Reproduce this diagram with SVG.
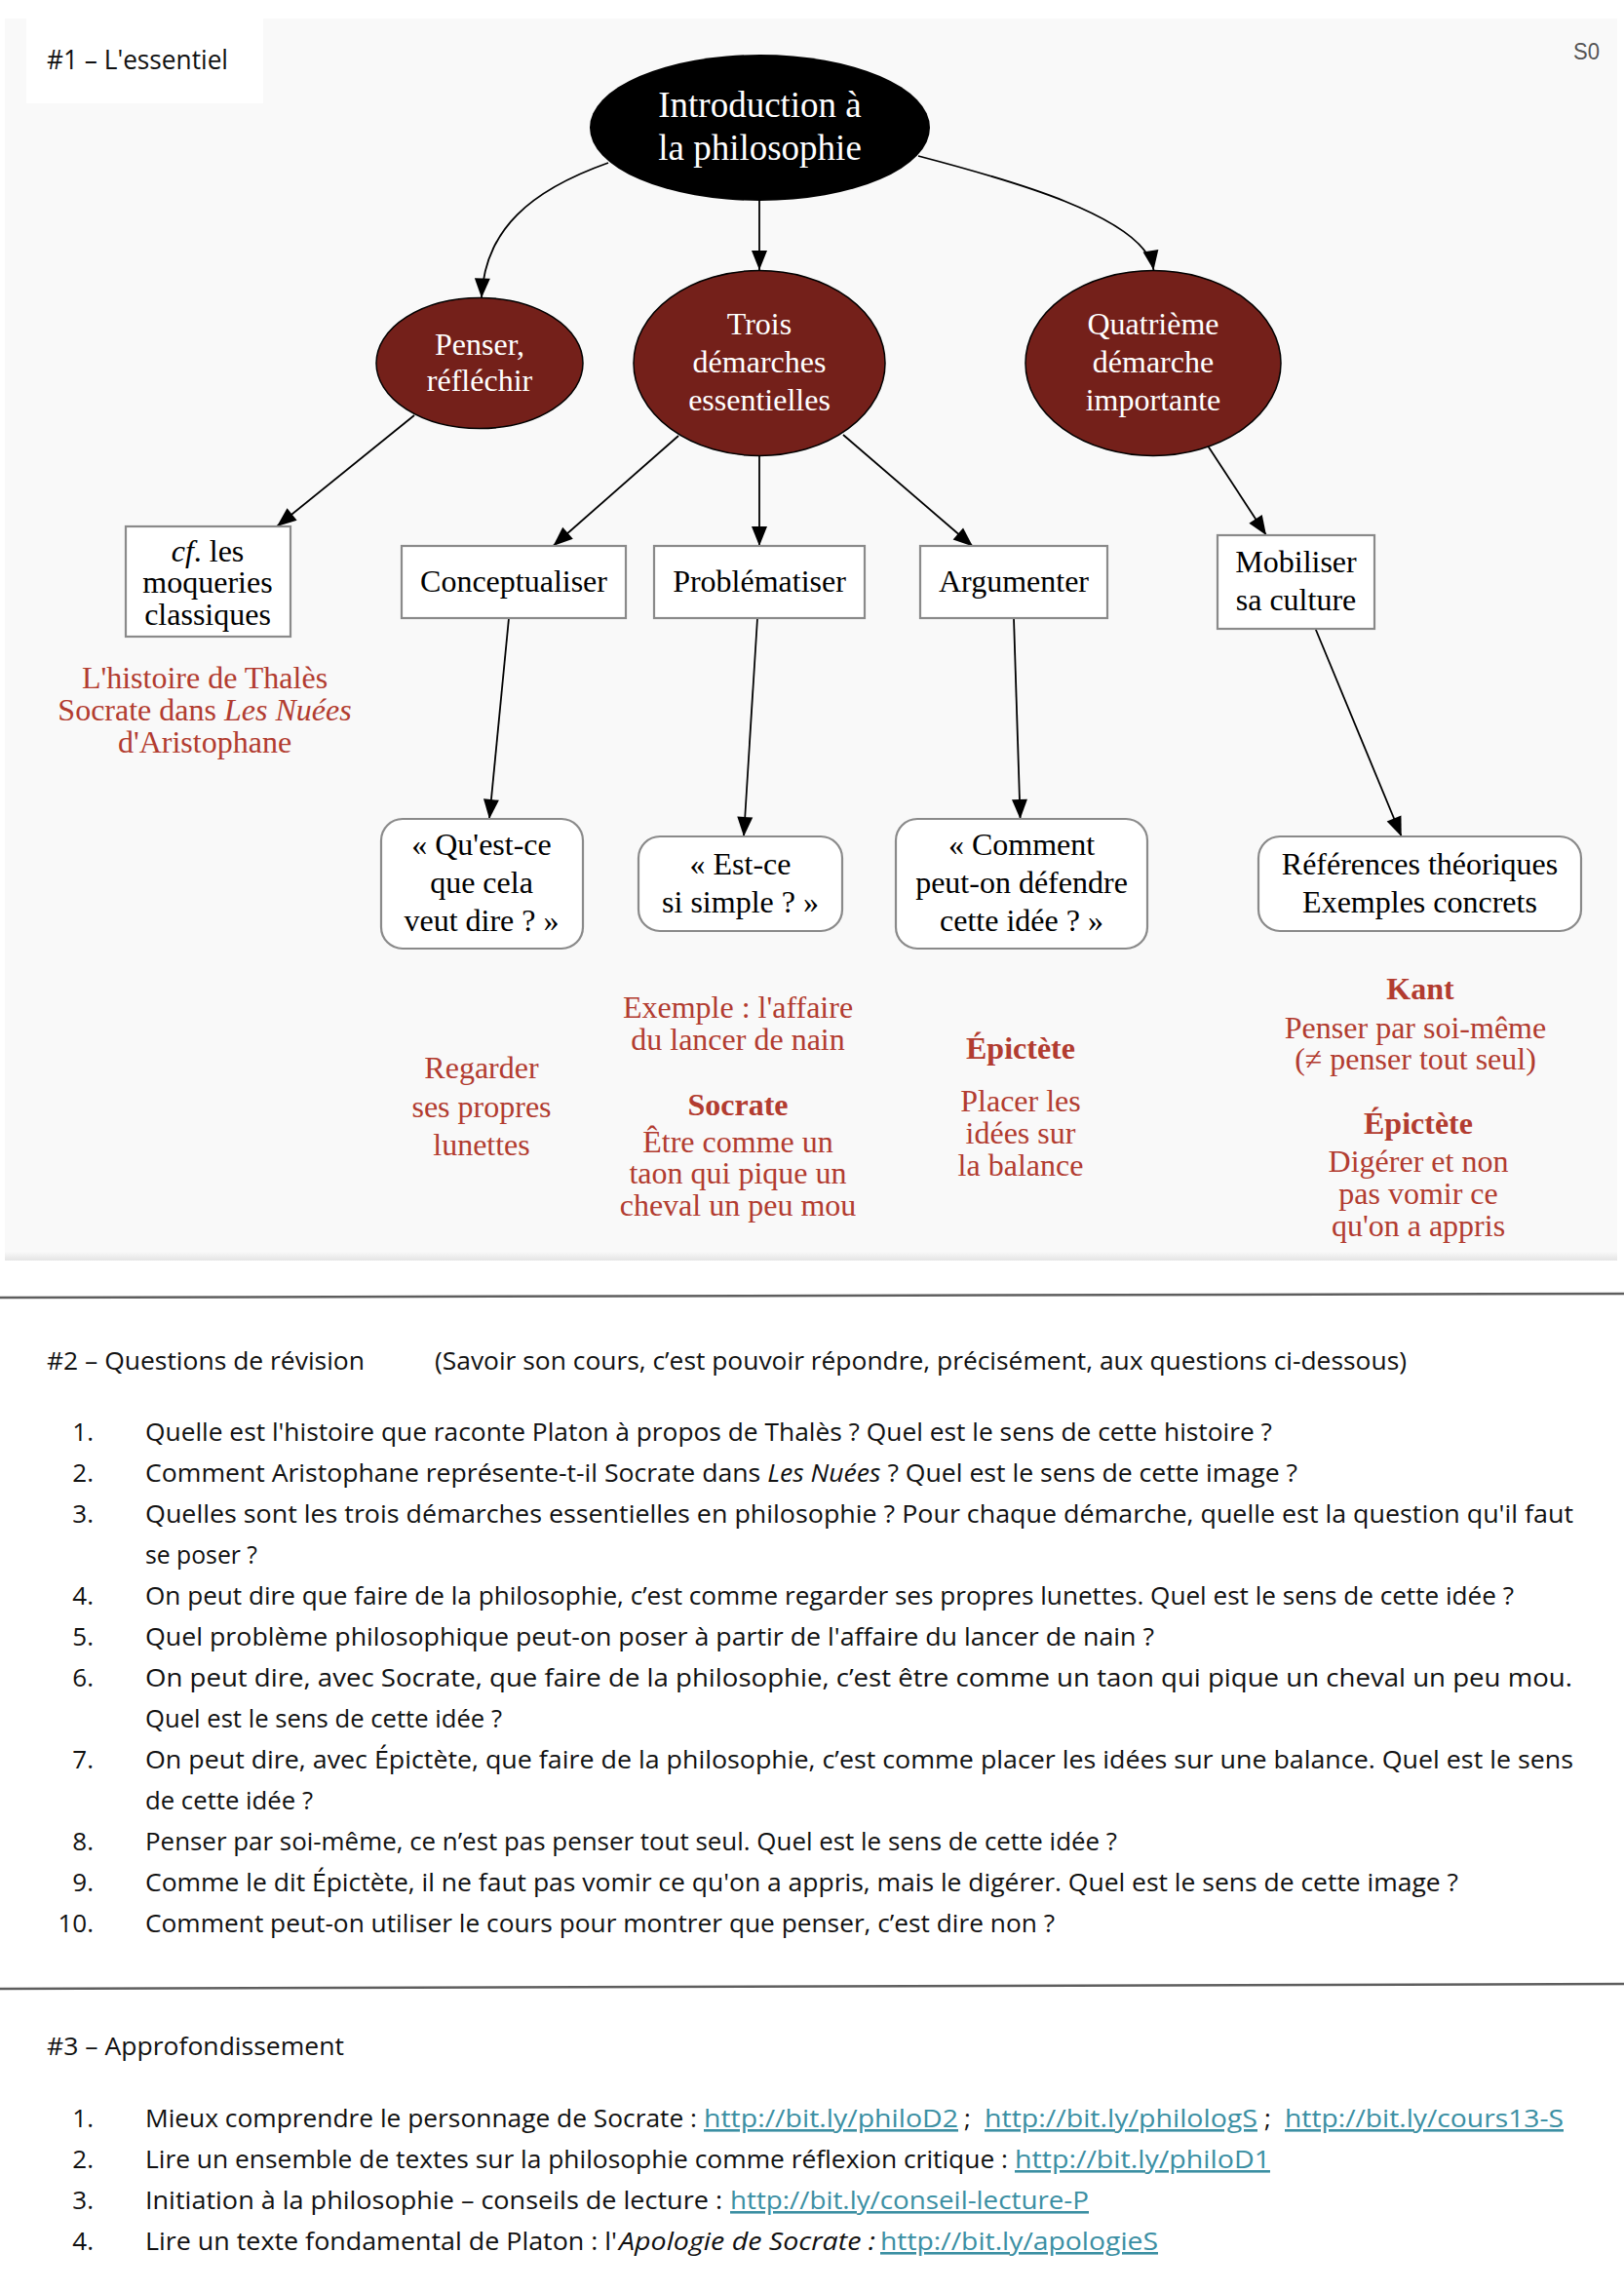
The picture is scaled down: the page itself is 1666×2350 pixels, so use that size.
<svg xmlns="http://www.w3.org/2000/svg" width="1666" height="2350" viewBox="0 0 1666 2350">
<defs>
<marker id="ah" markerUnits="userSpaceOnUse" markerWidth="22" markerHeight="18" refX="20" refY="9" orient="auto" overflow="visible">
<path d="M0,1 L20,9 L0,17 z" fill="#000"/>
</marker>
<linearGradient id="shadow" x1="0" y1="0" x2="0" y2="1">
<stop offset="0" stop-color="#f9f9f9"/>
<stop offset="1" stop-color="#e4e4e4"/>
</linearGradient>
</defs>
<style>
.ser{font-family:"Liberation Serif","Times New Roman",serif}
.san{font-family:"Open Sans","Liberation Sans",Arial,sans-serif}
.wt{fill:#fff}
.blk{fill:#000}
.red{fill:#b23c30}
.ell{fill:#74201a;stroke:#000;stroke-width:1.5}
.box{fill:#fff;stroke:#8a8a8a;stroke-width:2.2}
.edge{fill:none;stroke:#000;stroke-width:1.8;marker-end:url(#ah)}
.f32{font-size:32px}
.f37{font-size:37px}
.mid{text-anchor:middle}
.body{font-size:26px;fill:#111}
.num{text-anchor:end}
.lnk{fill:#3b8fa3;text-decoration:underline}
.it{font-style:italic}
.bd{font-weight:bold}
.rule{stroke:#5e5e5e;stroke-width:2.5}
</style>
<rect width="1666" height="2350" fill="#fff"/>
<!-- Section 1 panel -->
<rect x="5" y="19" width="1654" height="1273" fill="#f9f9f9"/>
<rect x="5" y="1284" width="1654" height="9" fill="url(#shadow)"/>
<rect x="27" y="19" width="243" height="87" fill="#fff"/>
<text class="san" x="48" y="71" font-size="28" textLength="186" lengthAdjust="spacingAndGlyphs" fill="#111">#1 – L'essentiel</text>
<text class="san" x="1614" y="61" font-size="24" textLength="27" lengthAdjust="spacingAndGlyphs" fill="#555" style="font-family:'Liberation Sans',Arial,sans-serif">S0</text>

<g id="edges">
<path class="edge" d="M624,167 C545,195 497,235 494,305.5"/>
<path class="edge" d="M779,206 L779,277"/>
<path class="edge" d="M942,160 C1030,183 1175,222 1183.5,277"/>
<path class="edge" d="M425,426 L284,540"/>
<path class="edge" d="M696,447 L567.5,560"/>
<path class="edge" d="M779,468 L779,560"/>
<path class="edge" d="M865,446 L998,560.5"/>
<path class="edge" d="M1239.5,458 L1299,549"/>
<path class="edge" d="M522,634 L502,840"/>
<path class="edge" d="M777,634 L763,858"/>
<path class="edge" d="M1040,634 L1046.6,840"/>
<path class="edge" d="M1349.5,645 L1437.7,858"/>
</g>

<g id="n-intro">
<ellipse cx="779.5" cy="131" rx="174.5" ry="75" fill="#000"/>
<text class="ser f37 wt mid" x="779.5" y="120">Introduction à</text>
<text class="ser f37 wt mid" x="779.5" y="164">la philosophie</text>
</g>
<g id="n-penser">
<ellipse class="ell" cx="492" cy="372.5" rx="106" ry="67"/>
<text class="ser f32 wt mid" x="492" y="364">Penser,</text>
<text class="ser f32 wt mid" x="492" y="401">réfléchir</text>
</g>
<g id="n-trois">
<ellipse class="ell" cx="779" cy="372.5" rx="129" ry="95"/>
<text class="ser f32 wt mid" x="779" y="343">Trois</text>
<text class="ser f32 wt mid" x="779" y="381.5">démarches</text>
<text class="ser f32 wt mid" x="779" y="420.5">essentielles</text>
</g>
<g id="n-quatrieme">
<ellipse class="ell" cx="1183" cy="372.5" rx="131" ry="95"/>
<text class="ser f32 wt mid" x="1183" y="343">Quatrième</text>
<text class="ser f32 wt mid" x="1183" y="381.5">démarche</text>
<text class="ser f32 wt mid" x="1183" y="420.5">importante</text>
</g>
<g id="n-cf">
<rect class="box" x="129" y="540" width="169" height="113"/>
<text class="ser f32 blk mid" x="213" y="576"><tspan class="it">cf</tspan>. les</text>
<text class="ser f32 blk mid" x="213" y="607.5">moqueries</text>
<text class="ser f32 blk mid" x="213" y="640.5">classiques</text>
</g>
<g id="n-concept">
<rect class="box" x="412" y="560" width="230" height="74"/>
<text class="ser f32 blk mid" x="527" y="607">Conceptualiser</text>
</g>
<g id="n-problem">
<rect class="box" x="671" y="560" width="216" height="74"/>
<text class="ser f32 blk mid" x="779" y="607">Problématiser</text>
</g>
<g id="n-argum">
<rect class="box" x="944" y="560" width="192" height="74"/>
<text class="ser f32 blk mid" x="1040" y="607">Argumenter</text>
</g>
<g id="n-mobil">
<rect class="box" x="1249" y="549" width="161" height="96"/>
<text class="ser f32 blk mid" x="1329.5" y="587">Mobiliser</text>
<text class="ser f32 blk mid" x="1329.5" y="626">sa culture</text>
</g>
<g id="n-questce">
<rect class="box" x="391" y="840" width="207" height="133" rx="22"/>
<text class="ser f32 blk mid" x="494" y="877">« Qu'est-ce</text>
<text class="ser f32 blk mid" x="494" y="915.5">que cela</text>
<text class="ser f32 blk mid" x="494" y="955">veut dire ? »</text>
</g>
<g id="n-estce">
<rect class="box" x="655" y="858" width="209" height="97" rx="22"/>
<text class="ser f32 blk mid" x="759.5" y="897">« Est-ce</text>
<text class="ser f32 blk mid" x="759.5" y="936">si simple ? »</text>
</g>
<g id="n-comment">
<rect class="box" x="919" y="840" width="258" height="133" rx="22"/>
<text class="ser f32 blk mid" x="1048" y="877">« Comment</text>
<text class="ser f32 blk mid" x="1048" y="915.5">peut-on défendre</text>
<text class="ser f32 blk mid" x="1048" y="955">cette idée ? »</text>
</g>
<g id="n-refs">
<rect class="box" x="1291" y="858" width="331" height="97" rx="22"/>
<text class="ser f32 blk mid" x="1456.5" y="897">Références théoriques</text>
<text class="ser f32 blk mid" x="1456.5" y="936">Exemples concrets</text>
</g>

<g id="note-thales">
<text class="ser f32 red mid" x="210" y="706">L'histoire de Thalès</text>
<text class="ser f32 red mid" x="210" y="739">Socrate dans <tspan class="it">Les Nuées</tspan></text>
<text class="ser f32 red mid" x="210" y="772">d'Aristophane</text>
</g>
<g id="note-lunettes">
<text class="ser f32 red mid" x="494" y="1106">Regarder</text>
<text class="ser f32 red mid" x="494" y="1145.5">ses propres</text>
<text class="ser f32 red mid" x="494" y="1185">lunettes</text>
</g>
<g id="note-socrate">
<text class="ser f32 red mid" x="757" y="1044">Exemple : l'affaire</text>
<text class="ser f32 red mid" x="757" y="1077">du lancer de nain</text>
<text class="ser f32 red mid bd" x="757" y="1143.5">Socrate</text>
<text class="ser f32 red mid" x="757" y="1181.5">Être comme un</text>
<text class="ser f32 red mid" x="757" y="1214">taon qui pique un</text>
<text class="ser f32 red mid" x="757" y="1247">cheval un peu mou</text>
</g>
<g id="note-epictete">
<text class="ser f32 red mid bd" x="1047" y="1086">Épictète</text>
<text class="ser f32 red mid" x="1047" y="1140">Placer les</text>
<text class="ser f32 red mid" x="1047" y="1173">idées sur</text>
<text class="ser f32 red mid" x="1047" y="1206">la balance</text>
</g>
<g id="note-kant">
<text class="ser f32 red mid bd" x="1457" y="1025">Kant</text>
<text class="ser f32 red mid" x="1452" y="1064.5">Penser par soi-même</text>
<text class="ser f32 red mid" x="1452" y="1097">(≠ penser tout seul)</text>
<text class="ser f32 red mid bd" x="1455" y="1163">Épictète</text>
<text class="ser f32 red mid" x="1455" y="1201.5">Digérer et non</text>
<text class="ser f32 red mid" x="1455" y="1234.5">pas vomir ce</text>
<text class="ser f32 red mid" x="1455" y="1267.5">qu'on a appris</text>
</g>

<!-- Section 2 -->
<line class="rule" x1="0" y1="1331" x2="1666" y2="1327"/>
<g class="san body">
<text x="48" y="1405" textLength="326" lengthAdjust="spacingAndGlyphs">#2 – Questions de révision</text>
<text x="446" y="1405" textLength="997" lengthAdjust="spacingAndGlyphs">(Savoir son cours, c’est pouvoir répondre, précisément, aux questions ci-dessous)</text>

<text class="num" x="96" y="1478">1.</text>
<text class="num" x="96" y="1520">2.</text>
<text class="num" x="96" y="1562">3.</text>
<text class="num" x="96" y="1646">4.</text>
<text class="num" x="96" y="1688">5.</text>
<text class="num" x="96" y="1730">6.</text>
<text class="num" x="96" y="1814">7.</text>
<text class="num" x="96" y="1898">8.</text>
<text class="num" x="96" y="1940">9.</text>
<text class="num" x="96" y="1982">10.</text>

<text x="149" y="1478" textLength="1156" lengthAdjust="spacingAndGlyphs">Quelle est l'histoire que raconte Platon à propos de Thalès ? Quel est le sens de cette histoire ?</text>
<text x="149" y="1520" textLength="1182" lengthAdjust="spacingAndGlyphs">Comment Aristophane représente-t-il Socrate dans <tspan class="it">Les Nuées</tspan> ? Quel est le sens de cette image ?</text>
<text x="149" y="1562" textLength="1465" lengthAdjust="spacingAndGlyphs">Quelles sont les trois démarches essentielles en philosophie ? Pour chaque démarche, quelle est la question qu'il faut</text>
<text x="149" y="1604" textLength="115" lengthAdjust="spacingAndGlyphs">se poser ?</text>
<text x="149" y="1646" textLength="1404" lengthAdjust="spacingAndGlyphs">On peut dire que faire de la philosophie, c’est comme regarder ses propres lunettes. Quel est le sens de cette idée ?</text>
<text x="149" y="1688" textLength="1035" lengthAdjust="spacingAndGlyphs">Quel problème philosophique peut-on poser à partir de l'affaire du lancer de nain ?</text>
<text x="149" y="1730" textLength="1464" lengthAdjust="spacingAndGlyphs">On peut dire, avec Socrate, que faire de la philosophie, c’est être comme un taon qui pique un cheval un peu mou.</text>
<text x="149" y="1772" textLength="366" lengthAdjust="spacingAndGlyphs">Quel est le sens de cette idée ?</text>
<text x="149" y="1814" textLength="1465" lengthAdjust="spacingAndGlyphs">On peut dire, avec Épictète, que faire de la philosophie, c’est comme placer les idées sur une balance. Quel est le sens</text>
<text x="149" y="1856" textLength="172" lengthAdjust="spacingAndGlyphs">de cette idée ?</text>
<text x="149" y="1898" textLength="997" lengthAdjust="spacingAndGlyphs">Penser par soi-même, ce n’est pas penser tout seul. Quel est le sens de cette idée ?</text>
<text x="149" y="1940" textLength="1347" lengthAdjust="spacingAndGlyphs">Comme le dit Épictète, il ne faut pas vomir ce qu'on a appris, mais le digérer. Quel est le sens de cette image ?</text>
<text x="149" y="1982" textLength="933" lengthAdjust="spacingAndGlyphs">Comment peut-on utiliser le cours pour montrer que penser, c’est dire non ?</text>
</g>

<!-- Section 3 -->
<line class="rule" x1="0" y1="2040" x2="1666" y2="2035"/>
<g class="san body">
<text x="48" y="2108" textLength="305" lengthAdjust="spacingAndGlyphs">#3 – Approfondissement</text>
<text class="num" x="96" y="2182">1.</text>
<text class="num" x="96" y="2224">2.</text>
<text class="num" x="96" y="2266">3.</text>
<text class="num" x="96" y="2308">4.</text>

<text x="149" y="2182" textLength="566" lengthAdjust="spacingAndGlyphs">Mieux comprendre le personnage de Socrate :</text>
<text class="lnk" x="722" y="2182" textLength="261" lengthAdjust="spacingAndGlyphs">http://bit.ly/philoD2</text>
<text x="989" y="2182">;</text>
<text class="lnk" x="1010" y="2182" textLength="280" lengthAdjust="spacingAndGlyphs">http://bit.ly/philologS</text>
<text x="1297" y="2182">;</text>
<text class="lnk" x="1318" y="2182" textLength="286" lengthAdjust="spacingAndGlyphs">http://bit.ly/cours13-S</text>

<text x="149" y="2224" textLength="885" lengthAdjust="spacingAndGlyphs">Lire un ensemble de textes sur la philosophie comme réflexion critique :</text>
<text class="lnk" x="1041" y="2224" textLength="262" lengthAdjust="spacingAndGlyphs">http://bit.ly/philoD1</text>

<text x="149" y="2266" textLength="592" lengthAdjust="spacingAndGlyphs">Initiation à la philosophie – conseils de lecture :</text>
<text class="lnk" x="749" y="2266" textLength="368" lengthAdjust="spacingAndGlyphs">http://bit.ly/conseil-lecture-P</text>

<text x="149" y="2308" textLength="484" lengthAdjust="spacingAndGlyphs">Lire un texte fondamental de Platon : l'</text>
<text class="it" x="635" y="2308" textLength="263" lengthAdjust="spacingAndGlyphs">Apologie de Socrate :</text>
<text class="lnk" x="903" y="2308" textLength="285" lengthAdjust="spacingAndGlyphs">http://bit.ly/apologieS</text>
</g>
</svg>
